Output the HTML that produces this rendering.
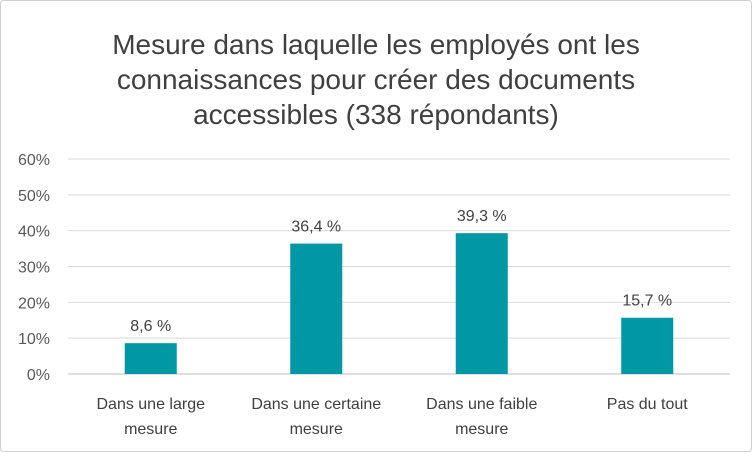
<!DOCTYPE html>
<html><head><meta charset="utf-8"><style>
html,body{margin:0;padding:0;background:#fff;}
svg{display:block;font-family:"Liberation Sans",sans-serif;}
</style></head><body>
<svg id="chart" width="752" height="452" viewBox="0 0 752 452">
<rect x="0.5" y="0.5" width="751" height="451" rx="3" fill="#fff" stroke="#d0d0d0"/>
<g font-size="28" fill="#404040" text-anchor="middle">
<text x="376" y="54">Mesure dans laquelle les employés ont les</text>
<text x="376" y="89">connaissances pour créer des documents</text>
<text x="376" y="124">accessibles (338 répondants)</text>
</g>
<g id="grid"></g><g id="bars"></g><g id="labels"></g>
</svg>
<script>
const categories=[["Dans une large","mesure"],["Dans une certaine","mesure"],["Dans une faible","mesure"],["Pas du tout"]];
const values=[8.6,36.4,39.3,15.7];
const valueLabels=["8,6 %","36,4 %","39,3 %","15,7 %"];
const ticks=[0,10,20,30,40,50,60];
const tickLabels=["0%","10%","20%","30%","40%","50%","60%"];
const NS="http://www.w3.org/2000/svg";
const x0=68,x1=730,y0=374,y1=159;
const yS=v=>y0-(v/60)*(y0-y1);
const band=(x1-x0)/categories.length;
const xC=i=>x0+band*(i+0.5);
function mk(t,a,p){const e=document.createElementNS(NS,t);for(const k in a)e.setAttribute(k,a[k]);p.appendChild(e);return e;}
const g=document.getElementById('grid'),b=document.getElementById('bars'),l=document.getElementById('labels');
ticks.forEach((t,i)=>{
 const ln=mk('line',{x1:x0,x2:x1,y1:yS(t),y2:yS(t),stroke:t===0?'#bfbfbf':'#d9d9d9','stroke-width':1},g);
 
 
 const tx=mk('text',{x:50,y:yS(t)+6,'text-anchor':'end','font-size':16,fill:'#595959'},g);
 tx.textContent=tickLabels[i];
 
 
});
values.forEach((v,i)=>{
 const r=mk('rect',{x:xC(i)-26,y:yS(v),width:52,height:y0-yS(v),fill:'#0098A4'},b);
 
 
 const vt=mk('text',{x:xC(i),y:yS(v)-12,'text-anchor':'middle','font-size':16,fill:'#404040'},l);
 vt.textContent=valueLabels[i];
 
 
 categories[i].forEach((s,j)=>{
  const ct=mk('text',{x:xC(i),y:409+j*25,'text-anchor':'middle','font-size':16,fill:'#404040'},l);
  ct.textContent=s;
  
  
 });
});
</script>
</body></html>
